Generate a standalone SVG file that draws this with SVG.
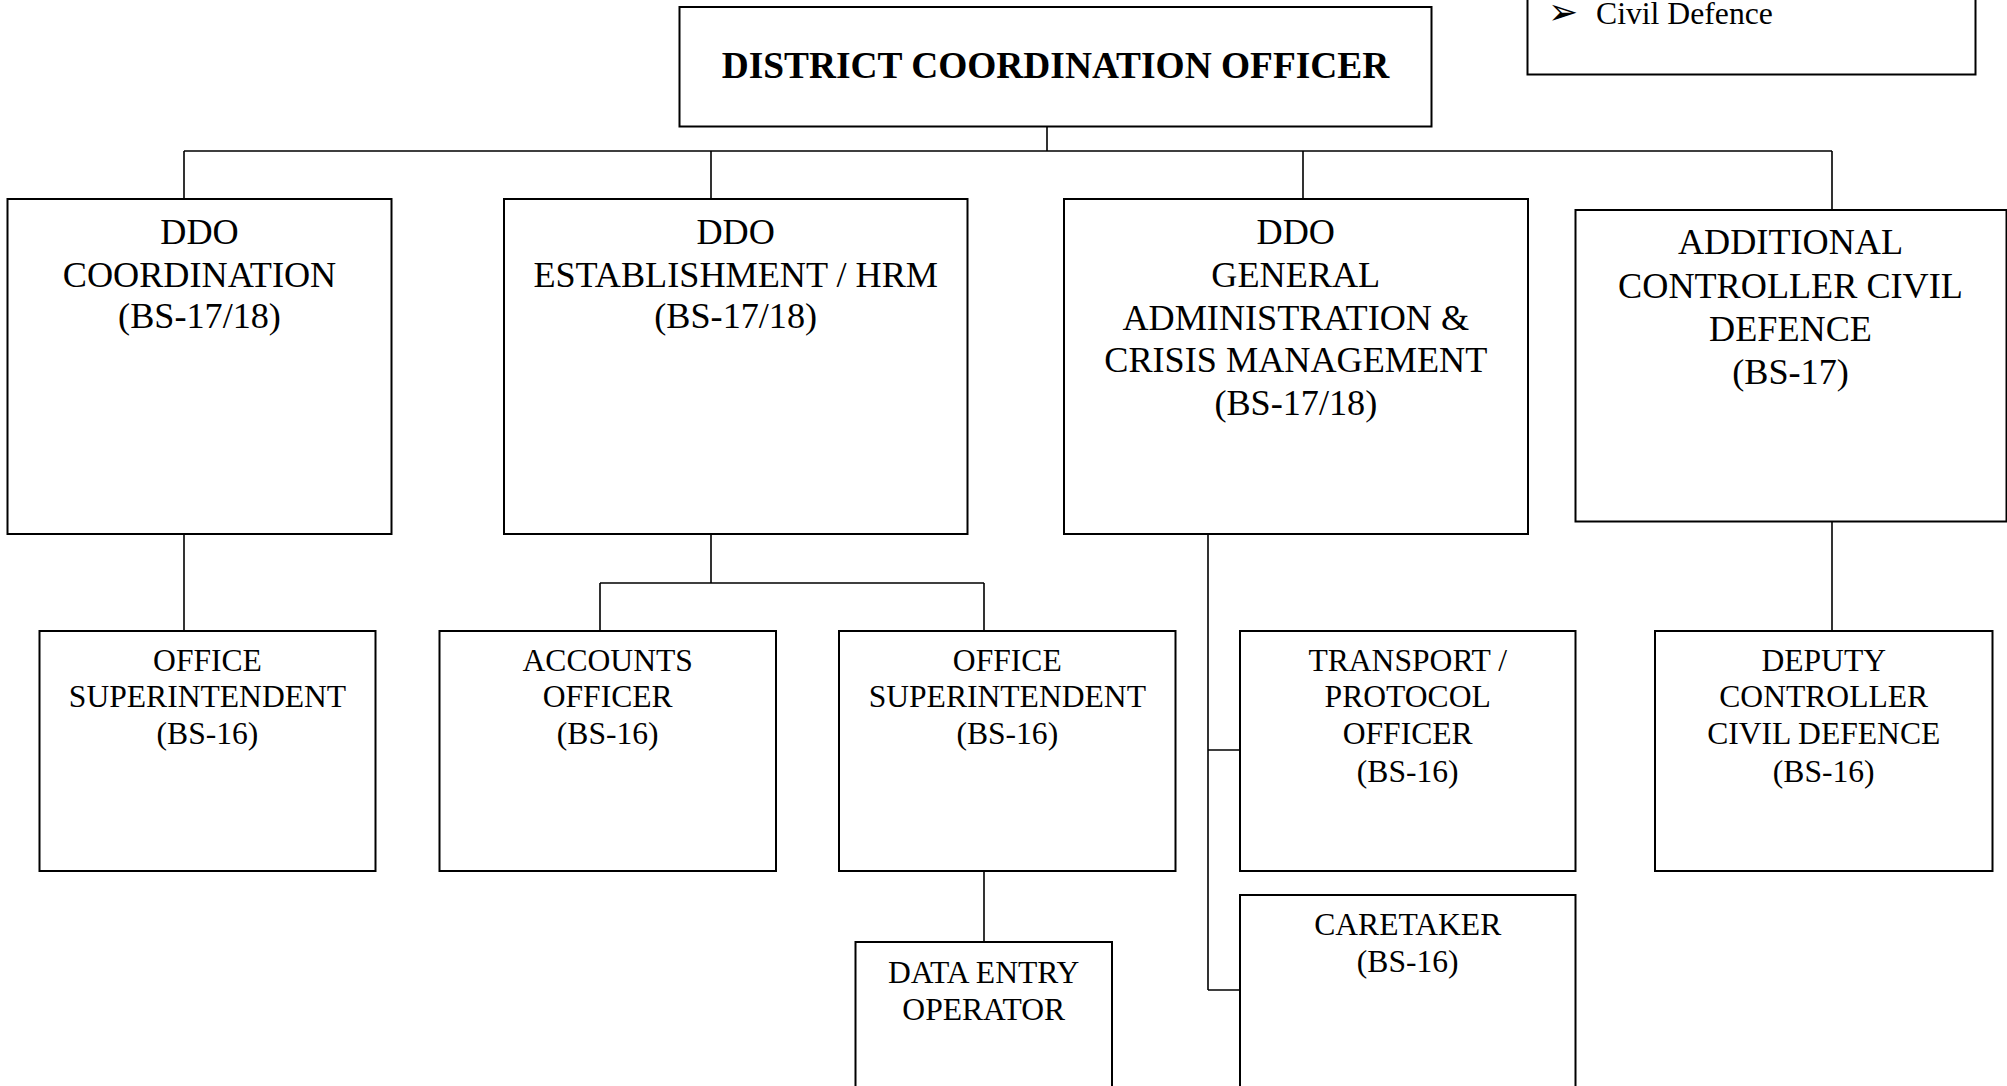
<svg xmlns="http://www.w3.org/2000/svg" width="2007" height="1086" viewBox="0 0 2007 1086">
<style>
.box{fill:#fff;stroke:#000;stroke-width:2}
.ln{fill:none;stroke:#000;stroke-width:1.6}
.t1{font-family:"Liberation Serif","Times New Roman",serif;font-size:36.2px;fill:#000;text-anchor:middle}
.t2{font-family:"Liberation Serif","Times New Roman",serif;font-size:31.6px;fill:#000;text-anchor:middle}
.tb{font-family:"Liberation Serif","Times New Roman",serif;font-size:37.4px;font-weight:bold;fill:#000;text-anchor:middle}
.tn{font-family:"Liberation Serif","Times New Roman",serif;font-size:31.7px;fill:#000}
</style>
<rect width="2007" height="1086" fill="#fff"/>
<g id="connectors">
<path class="ln" d="M1047 127V151M184 151H1832M184 151V199M711 151V199M1303 151V199M1832 151V210"/>
<path class="ln" d="M184 534V631"/>
<path class="ln" d="M711 534V583M600 583H984M600 583V631M984 583V631"/>
<path class="ln" d="M984 871V942"/>
<path class="ln" d="M1208 534V990M1208 750H1240M1208 990H1240"/>
<path class="ln" d="M1832 522V631"/>
</g>
<g id="note-civil-defence">
<rect class="box" x="1527.5" y="-20" width="448" height="94.5"/>
<text x="1548" y="24" font-family="DejaVu Sans, sans-serif" font-size="36" fill="#000">➢</text>
<text class="tn" x="1596" y="24">Civil Defence</text>
</g>
<g id="node-dco">
<rect class="box" x="679.5" y="7" width="752" height="119.5"/>
<text class="tb" x="1055.5" y="77.5">DISTRICT COORDINATION OFFICER</text>
</g>
<g id="node-ddo-coordination">
<rect class="box" x="7.5" y="199" width="384" height="335"/>
<text class="t1" x="199.5" y="244">DDO</text>
<text class="t1" x="199.5" y="286.5">COORDINATION</text>
<text class="t1" x="199.5" y="327.5">(BS-17/18)</text>
</g>
<g id="node-ddo-establishment">
<rect class="box" x="504" y="199" width="463.5" height="335"/>
<text class="t1" x="735.7" y="244">DDO</text>
<text class="t1" x="735.7" y="286.5">ESTABLISHMENT / HRM</text>
<text class="t1" x="735.7" y="327.5">(BS-17/18)</text>
</g>
<g id="node-ddo-general">
<rect class="box" x="1064" y="199" width="464" height="335"/>
<text class="t1" x="1295.8" y="244">DDO</text>
<text class="t1" x="1295.8" y="286.5">GENERAL</text>
<text class="t1" x="1295.8" y="329.5">ADMINISTRATION &amp;</text>
<text class="t1" x="1295.8" y="372">CRISIS MANAGEMENT</text>
<text class="t1" x="1295.8" y="414.5">(BS-17/18)</text>
</g>
<g id="node-additional-controller">
<rect class="box" x="1575.5" y="210" width="431" height="311.5"/>
<text class="t1" x="1790.5" y="254">ADDITIONAL</text>
<text class="t1" x="1790.5" y="297.5">CONTROLLER CIVIL</text>
<text class="t1" x="1790.5" y="340.5">DEFENCE</text>
<text class="t1" x="1790.5" y="383.5">(BS-17)</text>
</g>
<g id="node-office-superintendent-1">
<rect class="box" x="39.5" y="631" width="336" height="240"/>
<text class="t2" x="207.5" y="670.5">OFFICE</text>
<text class="t2" x="207.5" y="707">SUPERINTENDENT</text>
<text class="t2" x="207.5" y="744">(BS-16)</text>
</g>
<g id="node-accounts-officer">
<rect class="box" x="439.5" y="631" width="336.5" height="240"/>
<text class="t2" x="607.7" y="670.5">ACCOUNTS</text>
<text class="t2" x="607.7" y="707">OFFICER</text>
<text class="t2" x="607.7" y="744">(BS-16)</text>
</g>
<g id="node-office-superintendent-2">
<rect class="box" x="839" y="631" width="336.5" height="240"/>
<text class="t2" x="1007.3" y="670.5">OFFICE</text>
<text class="t2" x="1007.3" y="707">SUPERINTENDENT</text>
<text class="t2" x="1007.3" y="744">(BS-16)</text>
</g>
<g id="node-data-entry-operator">
<rect class="box" x="855.5" y="942" width="256.5" height="160"/>
<text class="t2" x="983.7" y="982.5">DATA ENTRY</text>
<text class="t2" x="983.7" y="1020">OPERATOR</text>
</g>
<g id="node-transport-protocol">
<rect class="box" x="1240" y="631" width="335.5" height="240"/>
<text class="t2" x="1407.7" y="670.5">TRANSPORT /</text>
<text class="t2" x="1407.7" y="707">PROTOCOL</text>
<text class="t2" x="1407.7" y="744">OFFICER</text>
<text class="t2" x="1407.7" y="781.5">(BS-16)</text>
</g>
<g id="node-caretaker">
<rect class="box" x="1240" y="895" width="335.5" height="210"/>
<text class="t2" x="1407.7" y="935">CARETAKER</text>
<text class="t2" x="1407.7" y="972">(BS-16)</text>
</g>
<g id="node-deputy-controller">
<rect class="box" x="1655" y="631" width="337.5" height="240"/>
<text class="t2" x="1823.7" y="670.5">DEPUTY</text>
<text class="t2" x="1823.7" y="707">CONTROLLER</text>
<text class="t2" x="1823.7" y="744">CIVIL DEFENCE</text>
<text class="t2" x="1823.7" y="781.5">(BS-16)</text>
</g>
</svg>
